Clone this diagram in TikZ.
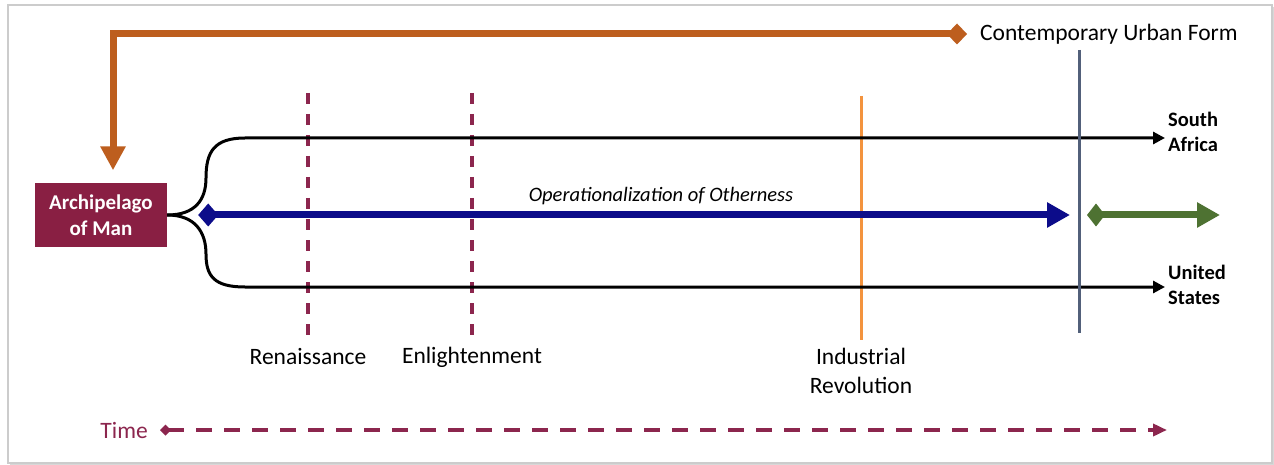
\documentclass[tikz,border=0pt]{standalone}
\usepackage{fontspec}
\setmainfont{Carlito}
\usetikzlibrary{arrows.meta,shadows,calc}

\definecolor{manred}{RGB}{137,31,67}
\definecolor{timered}{RGB}{140,38,78}
\definecolor{urbanorange}{RGB}{189,94,30}
\definecolor{industryorange}{RGB}{243,147,62}
\definecolor{nowslate}{RGB}{82,96,122}
\definecolor{othernavy}{RGB}{12,12,138}
\definecolor{futuregreen}{RGB}{78,114,50}

\begin{document}
\begin{tikzpicture}[x=1pt,y=-1pt,
    box node/.style={fill=manred,text=white,font=\fontsize{21}{26}\selectfont\bfseries,align=center,minimum width=132pt,minimum height=63pt,inner sep=0pt},
    era node/.style={font=\fontsize{23.5}{29}\selectfont,align=center,inner sep=0pt},
    end node/.style={font=\fontsize{20.5}{25}\selectfont\bfseries,align=left,anchor=west,inner sep=0pt},
    era line/.style={timered,line width=3.2pt,dash pattern=on 11pt off 10pt},
    fork line/.style={black,line width=3pt,-{Triangle[length=12pt,width=12pt]}},
    thick arrow/.style={line width=7pt}]
    \fill[white] (0,0) rectangle (1274,465);
    \filldraw[fill=white,draw=black!20,line width=1.5pt,drop shadow={shadow xshift=2pt,shadow yshift=-2pt,opacity=.3}] (8,5) rectangle (1272,463);

    \node[box node] (man) at (101,215) {Archipelago\\of Man};
    \node[era node] (ren) at (308,357) {Renaissance};
    \node[era node] (enl) at (472,357) {Enlightenment};
    \node[era node] (ind) at (861,370.5) {Industrial\\Revolution};
    \node[end node] (sa) at (1168,131.5) {South\\Africa};
    \node[end node] (us) at (1168,284.5) {United\\States};
    \node[font=\fontsize{20.5}{25}\selectfont\itshape,inner sep=0pt] (op) at (661,196) {Operationalization of Otherness};
    \node[era node,anchor=west] (cuf) at (980,34) {Contemporary Urban Form};
    \node[era node,anchor=east,text=timered] (time) at (148,430) {Time};

    \coordinate (now) at (1079,50);
    \coordinate (nowend) at (1079,333);
    \coordinate (saend) at (1165,138);
    \coordinate (usend) at (1165,287);
    \coordinate (future) at (1220,215);
    \coordinate (timeend) at (1167,430);

    \draw[era line] ($(ren)+(0,-264)$) -- ($(ren)+(0,-20)$);
    \draw[era line] ($(enl)+(0,-264)$) -- ($(enl)+(0,-20)$);
    \draw[industryorange,line width=3pt] ($(ind)+(0,-274.5)$) -- ($(ind)+(0,-30.5)$);

    \draw[fork line] (man.east) .. controls (195,215) and (206,200) .. (206,178) .. controls (206,152) and (214,138) .. (245,138) -- (saend);
    \draw[fork line] (man.east) .. controls (195,215) and (206,232) .. (206,254) .. controls (206,276) and (214,287) .. (245,287) -- (usend);

    \draw[nowslate,line width=3pt] (now) -- (nowend);

    \draw[urbanorange,thick arrow,line join=miter,{Diamond[length=20pt,width=21pt]}-{Triangle[length=24pt,width=24pt]},shorten <=13pt,shorten >=13pt] (cuf.west) -| ($(man.north)+(12,0)$);
    \draw[othernavy,thick arrow,{Diamond[length=20pt,width=23pt]}-{Triangle[length=23pt,width=24pt]},shorten <=31pt,shorten >=9pt] (man.east) -- (man.east -| now);
    \draw[futuregreen,thick arrow,{Diamond[length=18pt,width=23pt]}-{Triangle[length=23pt,width=24pt]},shorten <=8pt] (man.east -| now) -- (future);

    \draw[timered,line width=4pt,dash pattern=on 16pt off 12pt,{Diamond[length=11pt,width=11pt]}-{Triangle[length=14pt,width=12pt]},shorten <=12pt] (time.east) -- (timeend);
\end{tikzpicture}
\end{document}
